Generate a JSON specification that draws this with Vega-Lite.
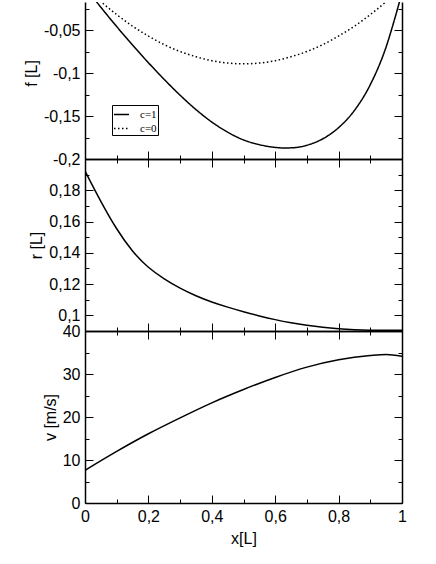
{
  "$schema": "https://vega.github.io/schema/vega-lite/v6.json",
  "padding": {"left": 23, "top": 0, "right": 5, "bottom": 5},
  "datasets": {
    "f": [
      {"x": 0, "f": 0, "c": "c=1"},
      {"x": 0.05, "f": -0.0235, "c": "c=1"},
      {"x": 0.1, "f": -0.046, "c": "c=1"},
      {"x": 0.15, "f": -0.0675, "c": "c=1"},
      {"x": 0.2, "f": -0.088, "c": "c=1"},
      {"x": 0.25, "f": -0.1075, "c": "c=1"},
      {"x": 0.3, "f": -0.1258, "c": "c=1"},
      {"x": 0.35, "f": -0.1425, "c": "c=1"},
      {"x": 0.4, "f": -0.157, "c": "c=1"},
      {"x": 0.45, "f": -0.1688, "c": "c=1"},
      {"x": 0.5, "f": -0.1778, "c": "c=1"},
      {"x": 0.55, "f": -0.1833, "c": "c=1"},
      {"x": 0.6, "f": -0.1865, "c": "c=1"},
      {"x": 0.63, "f": -0.1872, "c": "c=1"},
      {"x": 0.66, "f": -0.1868, "c": "c=1"},
      {"x": 0.7, "f": -0.184, "c": "c=1"},
      {"x": 0.75, "f": -0.1765, "c": "c=1"},
      {"x": 0.8, "f": -0.1635, "c": "c=1"},
      {"x": 0.85, "f": -0.1435, "c": "c=1"},
      {"x": 0.9, "f": -0.1135, "c": "c=1"},
      {"x": 0.95, "f": -0.0695, "c": "c=1"},
      {"x": 0.975, "f": -0.0395, "c": "c=1"},
      {"x": 1, "f": -0.0065, "c": "c=1"},
      {"x": 0, "f": 0, "c": "c=0"},
      {"x": 0.05, "f": -0.017, "c": "c=0"},
      {"x": 0.1, "f": -0.032, "c": "c=0"},
      {"x": 0.15, "f": -0.0455, "c": "c=0"},
      {"x": 0.2, "f": -0.057, "c": "c=0"},
      {"x": 0.25, "f": -0.067, "c": "c=0"},
      {"x": 0.3, "f": -0.075, "c": "c=0"},
      {"x": 0.35, "f": -0.081, "c": "c=0"},
      {"x": 0.4, "f": -0.0857, "c": "c=0"},
      {"x": 0.45, "f": -0.0884, "c": "c=0"},
      {"x": 0.5, "f": -0.0893, "c": "c=0"},
      {"x": 0.55, "f": -0.0884, "c": "c=0"},
      {"x": 0.6, "f": -0.0857, "c": "c=0"},
      {"x": 0.65, "f": -0.081, "c": "c=0"},
      {"x": 0.7, "f": -0.075, "c": "c=0"},
      {"x": 0.75, "f": -0.067, "c": "c=0"},
      {"x": 0.8, "f": -0.057, "c": "c=0"},
      {"x": 0.85, "f": -0.0455, "c": "c=0"},
      {"x": 0.9, "f": -0.032, "c": "c=0"},
      {"x": 0.95, "f": -0.017, "c": "c=0"},
      {"x": 1, "f": 0, "c": "c=0"}
    ],
    "r": [
      {"x": 0, "r": 0.1924},
      {"x": 0.05, "r": 0.1726},
      {"x": 0.1, "r": 0.1548},
      {"x": 0.15, "r": 0.1405},
      {"x": 0.2, "r": 0.1302},
      {"x": 0.25, "r": 0.1232},
      {"x": 0.3, "r": 0.1172},
      {"x": 0.35, "r": 0.1124},
      {"x": 0.4, "r": 0.1084},
      {"x": 0.45, "r": 0.1052},
      {"x": 0.5, "r": 0.1023},
      {"x": 0.55, "r": 0.0996},
      {"x": 0.6, "r": 0.0972},
      {"x": 0.65, "r": 0.0952},
      {"x": 0.7, "r": 0.0936},
      {"x": 0.75, "r": 0.0923},
      {"x": 0.8, "r": 0.0914},
      {"x": 0.85, "r": 0.0908},
      {"x": 0.9, "r": 0.0905},
      {"x": 0.95, "r": 0.0904},
      {"x": 1, "r": 0.0905}
    ],
    "v": [
      {"x": 0, "v": 7.6},
      {"x": 0.1, "v": 12.0},
      {"x": 0.2, "v": 16.1},
      {"x": 0.3, "v": 19.8},
      {"x": 0.4, "v": 23.3},
      {"x": 0.5, "v": 26.4},
      {"x": 0.6, "v": 29.2},
      {"x": 0.7, "v": 31.6},
      {"x": 0.8, "v": 33.3},
      {"x": 0.9, "v": 34.3},
      {"x": 0.95, "v": 34.55},
      {"x": 1, "v": 34.1}
    ]
  },
  "spacing": 0,
  "bounds": "flush",
  "resolve": {"legend": {"strokeDash": "independent"}},
  "vconcat": [
    {
      "width": 317,
      "height": 157,
      "data": {"name": "f"},
      "resolve": {"axis": {"x": "independent", "y": "independent"}},
      "layer": [
        {
          "mark": {"type": "line", "clip": true, "color": "black", "strokeWidth": 1.5, "interpolate": "monotone"},
          "encoding": {
            "x": {"field": "x", "type": "quantitative", "scale": {"domain": [0, 1], "nice": false},
              "axis": {"orient": "bottom", "values": [0, 0.1, 0.2, 0.3, 0.4, 0.5, 0.6, 0.7, 0.8, 0.9, 1], "labels": false, "title": null,
                "tickSize": {"condition": {"test": "round(datum.value*10)%2===0", "value": -8}, "value": -4}}},
            "y": {"field": "f", "type": "quantitative", "scale": {"domain": [-0.2, -0.0174], "nice": false, "zero": false},
              "axis": {"orient": "left", "values": [-0.2, -0.175, -0.15, -0.125, -0.1, -0.075, -0.05, -0.025], "title": "f [L]", "titleY": 71,
                "labelExpr": "abs(round(datum.value*40))%2===0 ? replace(toString(datum.value),'.',',') : ''",
                "labelPadding": 13,
                "tickSize": {"condition": {"test": "abs(round(datum.value*40))%2===0", "value": -8}, "value": -4}}},
            "strokeDash": {"field": "c", "type": "nominal", "scale": {"domain": ["c=1", "c=0"], "range": [[1, 0], [1.5, 2.5]]},
              "legend": {"orient": "none", "legendX": 27, "legendY": 103, "title": null, "strokeColor": "black", "padding": 1,
                "labelFont": "Liberation Serif", "labelFontSize": 11, "labelColor": "black", "symbolType": "stroke", "symbolSize": 225,
                "symbolStrokeWidth": 1.5, "symbolStrokeColor": "black", "rowPadding": -5, "labelOffset": 10}}
          }
        },
        {
          "mark": {"type": "line", "opacity": 0, "clip": true},
          "encoding": {
            "x": {"field": "x", "type": "quantitative", "axis": null},
            "y": {"field": "f", "type": "quantitative",
              "axis": {"orient": "right", "values": [-0.2, -0.175, -0.15, -0.125, -0.1, -0.075, -0.05, -0.025], "labels": false, "title": null,
                "tickSize": {"condition": {"test": "abs(round(datum.value*40))%2===0", "value": -8}, "value": -4}}},
            "detail": {"field": "c"}
          }
        }
      ]
    },
    {
      "width": 317,
      "height": 172,
      "data": {"name": "r"},
      "resolve": {"axis": {"x": "independent", "y": "independent"}},
      "layer": [
        {
          "mark": {"type": "line", "clip": true, "color": "black", "strokeWidth": 1.5, "interpolate": "basis"},
          "encoding": {
            "x": {"field": "x", "type": "quantitative", "scale": {"domain": [0, 1], "nice": false},
              "axis": {"orient": "bottom", "values": [0, 0.1, 0.2, 0.3, 0.4, 0.5, 0.6, 0.7, 0.8, 0.9, 1], "labels": false, "title": null,
                "tickSize": {"condition": {"test": "round(datum.value*10)%2===0", "value": -8}, "value": -4}}},
            "y": {"field": "r", "type": "quantitative", "scale": {"domain": [0.09, 0.2], "nice": false, "zero": false},
              "axis": {"orient": "left", "values": [0.1, 0.11, 0.12, 0.13, 0.14, 0.15, 0.16, 0.17, 0.18, 0.19, 0.2], "title": "r [L]",
                "labelExpr": "datum.value < 0.195 && round(datum.value*100)%2===0 ? replace(toString(datum.value),'.',',') : ''",
                "labelPadding": 13,
                "tickSize": {"condition": {"test": "round(datum.value*100)%2===0", "value": -8}, "value": -4}}}
          }
        },
        {
          "mark": {"type": "line", "opacity": 0, "clip": true},
          "encoding": {
            "x": {"field": "x", "type": "quantitative",
              "axis": {"orient": "top", "values": [0, 0.1, 0.2, 0.3, 0.4, 0.5, 0.6, 0.7, 0.8, 0.9, 1], "labels": false, "title": null,
                "tickSize": {"condition": {"test": "round(datum.value*10)%2===0", "value": -8}, "value": -4}}},
            "y": {"field": "r", "type": "quantitative",
              "axis": {"orient": "right", "values": [0.1, 0.11, 0.12, 0.13, 0.14, 0.15, 0.16, 0.17, 0.18, 0.19, 0.2], "labels": false, "title": null,
                "tickSize": {"condition": {"test": "round(datum.value*100)%2===0", "value": -8}, "value": -4}}}
          }
        }
      ]
    },
    {
      "width": 317,
      "height": 172,
      "data": {"name": "v"},
      "resolve": {"axis": {"x": "independent", "y": "independent"}},
      "layer": [
        {
          "mark": {"type": "line", "clip": true, "color": "black", "strokeWidth": 1.5, "interpolate": "monotone"},
          "encoding": {
            "x": {"field": "x", "type": "quantitative", "scale": {"domain": [0, 1], "nice": false},
              "axis": {"orient": "bottom", "values": [0, 0.1, 0.2, 0.3, 0.4, 0.5, 0.6, 0.7, 0.8, 0.9, 1], "title": "x[L]",
                "labelExpr": "round(datum.value*10)%2===0 ? replace(toString(datum.value),'.',',') : ''",
                "labelPadding": 13, "titlePadding": 2,
                "tickSize": {"condition": {"test": "round(datum.value*10)%2===0", "value": -8}, "value": -4}}},
            "y": {"field": "v", "type": "quantitative", "scale": {"domain": [0, 40], "nice": false},
              "axis": {"orient": "left", "values": [0, 5, 10, 15, 20, 25, 30, 35, 40], "title": "v [m/s]",
                "labelExpr": "round(datum.value)%10===0 ? toString(datum.value) : ''",
                "labelPadding": 13,
                "tickSize": {"condition": {"test": "round(datum.value)%10===0", "value": -8}, "value": -4}}}
          }
        },
        {
          "mark": {"type": "line", "opacity": 0, "clip": true},
          "encoding": {
            "x": {"field": "x", "type": "quantitative",
              "axis": {"orient": "top", "values": [0, 0.1, 0.2, 0.3, 0.4, 0.5, 0.6, 0.7, 0.8, 0.9, 1], "labels": false, "title": null,
                "tickSize": {"condition": {"test": "round(datum.value*10)%2===0", "value": -8}, "value": -4}}},
            "y": {"field": "v", "type": "quantitative",
              "axis": {"orient": "right", "values": [0, 5, 10, 15, 20, 25, 30, 35, 40], "labels": false, "title": null,
                "tickSize": {"condition": {"test": "round(datum.value)%10===0", "value": -8}, "value": -4}}}
          }
        }
      ]
    }
  ],
  "config": {
    "view": {"stroke": null},
    "axis": {"grid": false, "domainColor": "black", "domainWidth": 1.5, "tickColor": "black", "tickWidth": 1,
      "labelFont": "Liberation Sans", "labelFontSize": 16, "labelColor": "black",
      "titleFont": "Liberation Sans", "titleFontSize": 16, "titleFontWeight": "normal", "titleColor": "black",
      "labelFlush": false, "labelOverlap": false, "labelBound": false, "titlePadding": 4}
  }
}
